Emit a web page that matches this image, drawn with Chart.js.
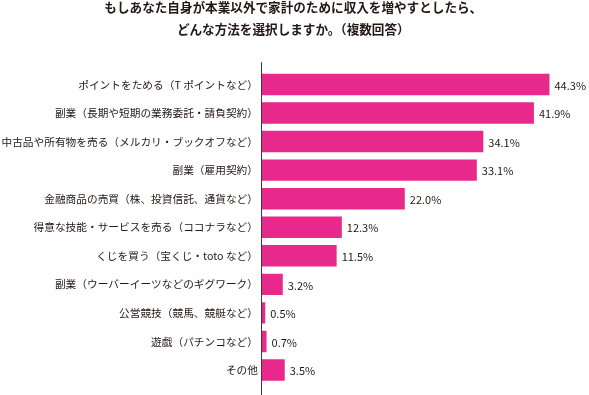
<!DOCTYPE html>
<html>
<head>
<meta charset="utf-8">
<script src="https://cdn.jsdelivr.net/npm/chart.js@4/dist/chart.umd.min.js"></script>
<style>
  html, body { margin: 0; padding: 0; background: #fff; overflow: hidden; }
  #wrap { position: absolute; left: 0; top: -3px; width: 589px; height: 398px; }
</style>
</head>
<body>
<div id="wrap"><canvas id="chart"></canvas></div>
<script>
var titleLines = [
  'もしあなた自身が本業以外で家計のために収入を増やすとしたら、',
  'どんな方法を選択しますか。（複数回答）'
];
var categories = [
  'ポイントをためる（T ポイントなど）',
  '副業（長期や短期の業務委託・請負契約）',
  '中古品や所有物を売る（メルカリ・ブックオフなど）',
  '副業（雇用契約）',
  '金融商品の売買（株、投資信託、通貨など）',
  '得意な技能・サービスを売る（ココナラなど）',
  'くじを買う（宝くじ・toto など）',
  '副業（ウーバーイーツなどのギグワーク）',
  '公営競技（競馬、競艇など）',
  '遊戯（パチンコなど）',
  'その他'
];
var values = [44.3, 41.9, 34.1, 33.1, 22.0, 12.3, 11.5, 3.2, 0.5, 0.7, 3.5];

var textColor = '#231815';
var barColor = '#e6298a';
var jpFont = '"Noto Sans CJK JP", "Noto Sans", sans-serif';

// value labels at the end of each bar
var valueLabels = {
  id: 'valueLabels',
  afterDatasetsDraw: function(chart) {
    var ctx = chart.ctx;
    var meta = chart.getDatasetMeta(0);
    ctx.save();
    ctx.font = '11px ' + jpFont;
    ctx.fillStyle = textColor;
    ctx.textAlign = 'left';
    ctx.textBaseline = 'middle';
    meta.data.forEach(function(bar, i) {
      ctx.fillText(values[i].toFixed(1) + '%', bar.x + 5, bar.y + 1);
    });
    ctx.restore();
  }
};

// vertical axis line, runs a bit past the bars
var axisLine = {
  id: 'axisLine',
  afterDraw: function(chart) {
    var ctx = chart.ctx;
    var x = chart.scales.x.getPixelForValue(0) - 0.5;
    ctx.save();
    ctx.strokeStyle = '#3e3a39';
    ctx.lineWidth = 1;
    ctx.beginPath();
    ctx.moveTo(x, chart.chartArea.top - 8);
    ctx.lineTo(x, chart.height);
    ctx.stroke();
    ctx.restore();
  }
};

new Chart(document.getElementById('chart').getContext('2d'), {
  type: 'bar',
  data: {
    labels: categories,
    datasets: [{
      data: values,
      backgroundColor: barColor,
      borderWidth: 0,
      barPercentage: 0.75,
      categoryPercentage: 1
    }]
  },
  options: {
    indexAxis: 'y',
    responsive: true,
    maintainAspectRatio: false,
    animation: false,
    layout: { padding: { left: 0, right: 2.5, top: 0, bottom: 10.7 } },
    plugins: {
      legend: { display: false },
      tooltip: { enabled: false },
      title: {
        display: true,
        text: titleLines,
        color: textColor,
        font: { family: jpFont, size: 12.6, weight: 'bold', lineHeight: 1.69 },
        padding: { top: 0, bottom: 30.6 }
      }
    },
    scales: {
      x: {
        display: false,
        min: 0,
        max: 50
      },
      y: {
        grid: { display: false, drawTicks: false },
        border: { display: false },
        ticks: {
          color: textColor,
          padding: 4,
          font: { family: jpFont, size: 10.7 }
        },
        afterFit: function(scale) { scale.width = 262; }
      }
    }
  },
  plugins: [valueLabels, axisLine]
});
</script>
</body>
</html>
